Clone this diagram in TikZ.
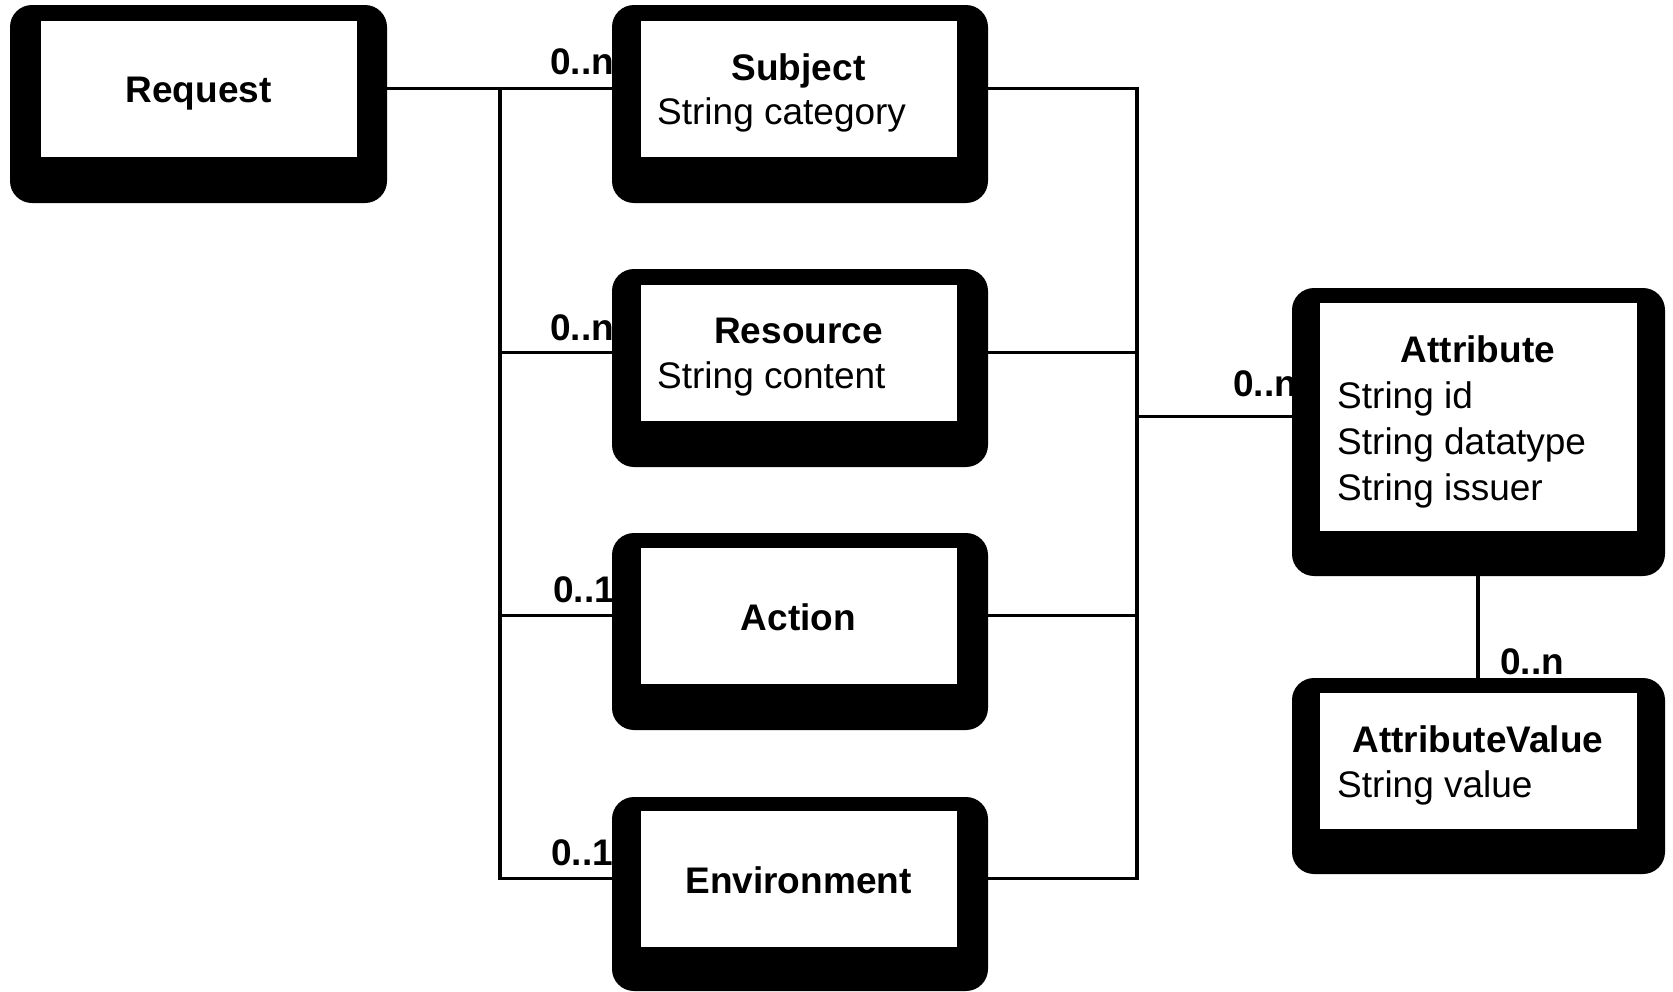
\documentclass[tikz,border=0pt]{standalone}
\usepackage{fontspec}
\setmainfont{Liberation Sans}
\pgfdeclarelayer{bg}
\pgfsetlayers{bg,main}
\begin{document}
\begin{tikzpicture}[x=1pt,y=-1pt,
  shadowbox/.style={fill=black, rounded corners=22pt},
  whitebox/.style={fill=white, draw=black, line width=1pt, inner sep=0pt},
  title/.style={font=\fontsize{37}{44}\selectfont\bfseries, anchor=base, inner sep=0pt},
  body/.style={font=\fontsize{37}{44}\selectfont, anchor=base west, inner sep=0pt},
  mult/.style={font=\fontsize{37}{44}\selectfont\bfseries, anchor=base west, inner sep=0pt},
  conn/.style={line width=3.5pt}]
\useasboundingbox (0,0) rectangle (1673,991);

% Request
\fill[shadowbox] (10,5) rectangle (387,203);
\node[whitebox, minimum width=317pt, minimum height=137pt] (req) at (198.5,88.5) {};
\node[title] (reqT) at (198.5,102) {Request};

% Subject
\fill[shadowbox] (612,5) rectangle (988,203);
\node[whitebox, minimum width=317pt, minimum height=137pt] (subj) at (798.5,88.5) {};
\node[title] (subjT) at (798.5,80) {Subject};
\node[body] (subjB) at (657,124) {String category};

% Resource
\fill[shadowbox] (612,269) rectangle (988,467);
\node[whitebox, minimum width=317pt, minimum height=137pt] (res) at (798.5,352.5) {};
\node[title] (resT) at (798.5,343) {Resource};
\node[body] (resB) at (657,388) {String content};

% Action
\fill[shadowbox] (612,533) rectangle (988,730);
\node[whitebox, minimum width=317pt, minimum height=137pt] (act) at (798.5,615.5) {};
\node[title] (actT) at (798.5,630) {Action};

% Environment
\fill[shadowbox] (612,797) rectangle (988,991);
\node[whitebox, minimum width=317pt, minimum height=137pt] (env) at (798.5,878.5) {};
\node[title] (envT) at (798.5,893) {Environment};

% Attribute
\fill[shadowbox] (1292,288) rectangle (1665,576);
\node[whitebox, minimum width=318pt, minimum height=229pt] (attr) at (1478,416.5) {};
\node[title] (attrT) at (1478,362) {Attribute};
\node[body] (attrB1) at (1337,408) {String id};
\node[body] (attrB2) at (1337,454) {String datatype};
\node[body] (attrB3) at (1337,500) {String issuer};

% AttributeValue
\fill[shadowbox] (1292,678) rectangle (1665,874);
\node[whitebox, minimum width=318pt, minimum height=137pt] (aval) at (1478,760.5) {};
\node[title] (avalT) at (1478,752) {AttributeValue};
\node[body] (avalB) at (1337,797) {String value};

\begin{pgfonlayer}{bg}
  \coordinate (jl) at (500,88.5);
  \coordinate (jr) at (1137,88.5);
  \draw[conn] (req.east) -- (subj.west);
  \draw[conn] (jl) |- (env.west);
  \draw[conn] (res.west -| jl) -- (res.west);
  \draw[conn] (act.west -| jl) -- (act.west);
  \draw[conn] (subj.east) -- (jr) |- (env.east);
  \draw[conn] (res.east) -- (res.east -| jr);
  \draw[conn] (act.east) -- (act.east -| jr);
  \draw[conn] (attr.west -| jr) -- (attr.west);
  \draw[conn] (attr.south) -- (aval.north);

  \node[mult] (m1) at (550,74) {0..n};
  \node[mult] (m2) at (550,340) {0..n};
  \node[mult] (m3) at (553,602) {0..1};
  \node[mult] (m4) at (551,865) {0..1};
  \node[mult] (m5) at (1233,396) {0..n};
  \node[mult] (m6) at (1500,674) {0..n};
\end{pgfonlayer}
\end{tikzpicture}
\end{document}
